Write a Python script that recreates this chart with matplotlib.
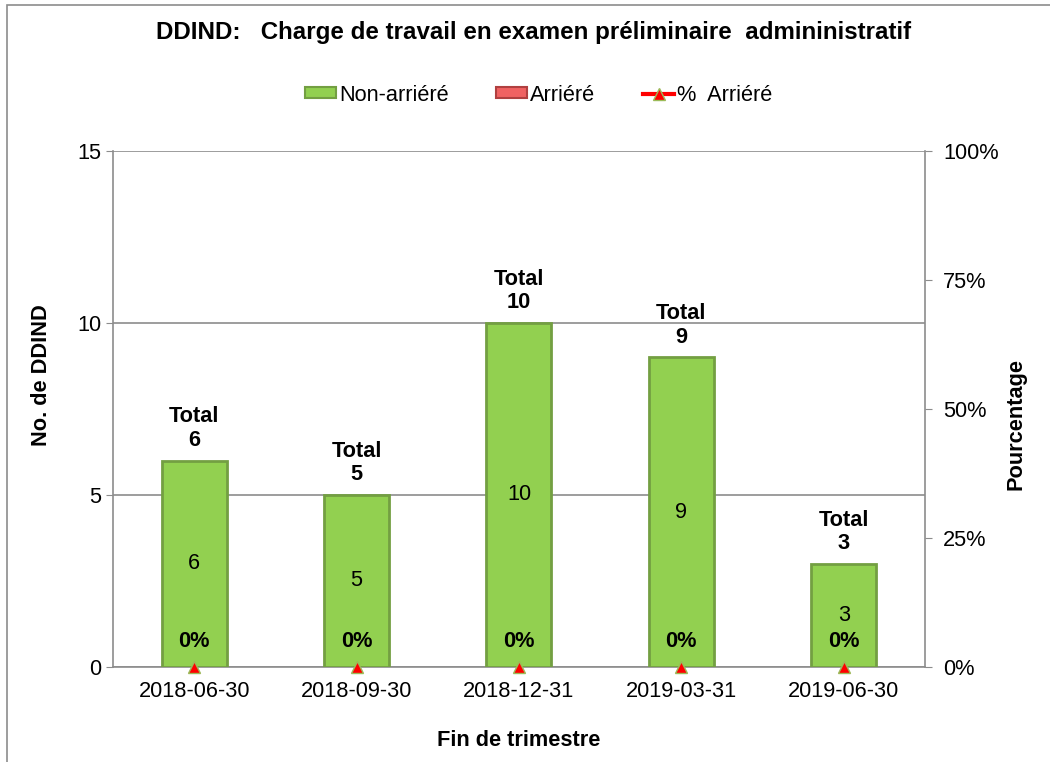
import matplotlib.pyplot as plt
from matplotlib.patches import Patch, Rectangle
from matplotlib.lines import Line2D

plt.rcParams['font.family'] = ['Liberation Sans', 'DejaVu Sans']

quarters = ['2018-06-30', '2018-09-30', '2018-12-31', '2019-03-31', '2019-06-30']
non_backlog = [6, 5, 10, 9, 3]
backlog = [0, 0, 0, 0, 0]
pct_backlog = [0, 0, 0, 0, 0]
totals = [a + b for a, b in zip(non_backlog, backlog)]

green = '#92d050'
green_edge = '#739f42'
pink = '#f06262'
red = '#ff0000'
fs = 15.7

fig = plt.figure(figsize=(10.5, 7.62), dpi=100)
# outer chart frame
fig.patches.append(Rectangle((0.007, -0.1), 1.2, 1.1 - 0.0065, transform=fig.transFigure,
                             fill=False, edgecolor='#8c8c8c', linewidth=1.2))

ax = fig.add_axes([0.1076, 0.1247, 0.7733, 0.6771])
x = list(range(len(quarters)))

ax.bar(x, non_backlog, width=0.4, color=green, edgecolor=green_edge, linewidth=2, zorder=3)
ax.bar(x, backlog, width=0.4, bottom=non_backlog, color=pink, edgecolor='none', zorder=3)

ax.set_xlim(-0.5, len(quarters) - 0.5)
ax.set_ylim(0, 15)
ax.set_yticks([0, 5, 10, 15])
ax.set_xticks(x)
ax.set_xticklabels(quarters)
ax.tick_params(axis='both', labelsize=fs, colors='black', length=5, color='#8c8c8c')
ax.tick_params(axis='x', length=0, pad=10)
ax.grid(axis='y', color='#8c8c8c', linewidth=1.2, zorder=0)
for side in ['top', 'right']:
    ax.spines[side].set_visible(False)
for side in ['left', 'bottom']:
    ax.spines[side].set_color('#8c8c8c')
    ax.spines[side].set_linewidth(1.2)
ax.set_ylabel('No. de DDIND', fontsize=fs, fontweight='bold')
ax.yaxis.set_label_coords(-0.075, 0.565)
ax.set_xlabel('Fin de trimestre', fontsize=fs, fontweight='bold', labelpad=20)

for xi, v, t in zip(x, non_backlog, totals):
    ax.text(xi, v / 2, str(v), ha='center', va='center', fontsize=fs, zorder=5)
    ax.annotate('Total\n' + str(t), (xi, t), xytext=(0, 7), textcoords='offset points',
                ha='center', va='bottom', fontsize=fs, fontweight='bold',
                linespacing=1.15)

ax2 = ax.twinx()
ax2.set_ylim(0, 1)
ax2.set_yticks([0, 0.25, 0.5, 0.75, 1.0])
ax2.set_yticklabels(['0%', '25%', '50%', '75%', '100%'])
ax2.tick_params(axis='y', labelsize=fs, length=5, color='#8c8c8c', pad=8)
for side in ['top', 'left', 'bottom']:
    ax2.spines[side].set_visible(False)
ax2.spines['right'].set_color('#8c8c8c')
ax2.spines['right'].set_linewidth(1.2)
ax2.set_ylabel('Pourcentage', fontsize=fs, fontweight='bold')
ax2.yaxis.set_label_coords(1.099, 0.47)
# the % line sits on the axis, only its markers show
ax2.plot(x, pct_backlog, linestyle='none', marker='^', markersize=9,
         markerfacecolor=red, markeredgecolor='#9bbb59', clip_on=False, zorder=6)
for xi, p in zip(x, pct_backlog):
    ax2.annotate('{:.0%}'.format(p), (xi, p), xytext=(0, 11), textcoords='offset points',
                 ha='center', va='bottom', fontsize=fs, fontweight='bold')

fig.suptitle('DDIND:   Charge de travail en examen préliminaire  admininistratif',
             x=0.508, y=0.973, fontsize=17.4, fontweight='bold')

handles = [
    Patch(facecolor=green, edgecolor=green_edge, linewidth=1.5),
    Patch(facecolor=pink, edgecolor='#b04040', linewidth=1.5),
    Line2D([0], [0], color=red, linewidth=3, marker='^', markersize=9,
           markerfacecolor=red, markeredgecolor='#9bbb59'),
]
fig.legend(handles, ['Non-arriéré', 'Arriéré', '%  Arriéré'], loc='center',
           bbox_to_anchor=(0.513, 0.875), ncol=3, frameon=False, fontsize=fs,
           handlelength=1.4, handleheight=0.4, handletextpad=0.15, columnspacing=2.2)

fig.savefig('out.png', dpi=100)
